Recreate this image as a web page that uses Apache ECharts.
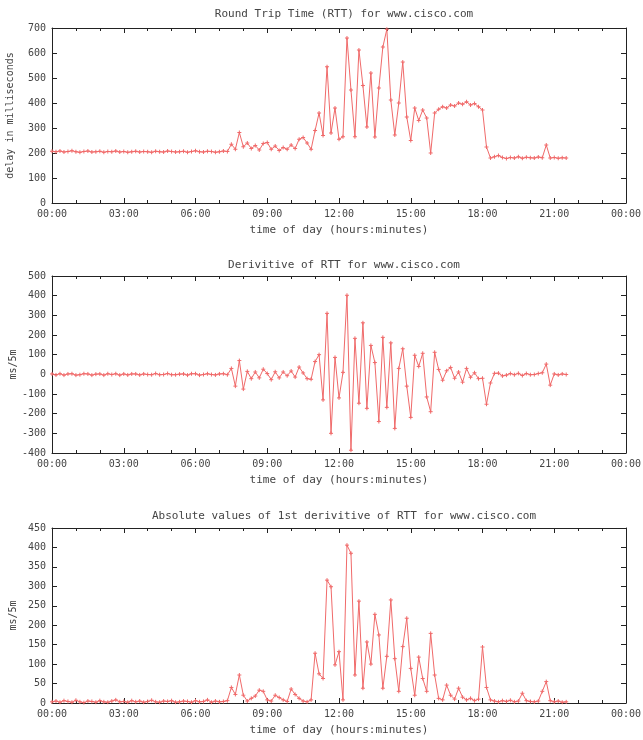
<!DOCTYPE html>
<html>
<head>
<meta charset="utf-8">
<script src="https://cdn.jsdelivr.net/npm/echarts/dist/echarts.min.js"></script>
<style>
  html, body { margin: 0; padding: 0; background: #fff; }
  #main { width: 643px; height: 740px; }
</style>
</head>
<body>
<div id="main"></div>
<script>
// one sample every 10 minutes, starting at 00:00
var sampleMinutes = 10;
var timeLabels = ['00:00', '03:00', '06:00', '09:00', '12:00', '15:00', '18:00', '21:00', '00:00'];

// round trip time, ms
var rtt = [
    207,205,208,204,206,209,205,203,206,208, 204,205,207,203,206,205,208,204,206,203,
    205,207,204,206,205,203,207,205,204,208, 206,204,205,207,203,206,209,205,204,207,
    206,203,205,208,206,
    235,215,282,225,240,218,230,212,238,242, 215,228,210,222,215,232,218,255,262,240, 215,
    290,360,270,545,280,380,255,265,660,452, 265,612,470,304,520,264,460,624,695,412,
    272,400,564,344,250,380,330,372,340,200, 360,
    375,385,380,392,388,400,395,405,392,398,385,
    372,224,
    180,185,190,182,178,182,180,185,179,183, 181,180,184,181,232,180,182,179,181,180
];

// derivative of rtt, ms per 5 min
var deriv = [
    2,-3,3,-4,2,3,-4,-2,3,2, -4,1,2,-4,3,-1,3,-4,2,-3,
    2,2,-3,2,-1,-2,4,-2,-1,4, -2,-2,1,2,-4,3,3,-4,-1,3,
    -1,-3,2,3,-2,
    30,-60,70,-75,15,-22,12,-18,26,4, -27,13,-18,12,-7,17,-14,37,7,-22, -25,
    65,100,-130,310,-300,86,-120,10,402,-386, 183,-147,262,-173,147,60,-240,188,-168,160,
    -275,30,130,-60,-219,97,40,107,-115,-190, 112,
    25,-30,18,35,-20,12,-40,30,-15,8,-22,
    -20,-152,
    -44,5,6,-8,-4,4,-2,5,-6,4, -2,-1,4,8,52,-55,2,-3,2,-1
];

// absolute values of the derivative
var absDeriv = [
    3,5,2,6,4,2,7,3,1,5, 4,2,6,3,2,5,8,3,4,2,
    6,3,5,2,4,7,3,2,5,4, 6,2,3,5,4,2,6,3,4,8,
    2,5,3,4,6,
    40,22,72,20,5,12,18,33,30,8, 5,20,14,8,4,36,22,12,5,3, 8,
    128,75,63,316,299,98,132,8,406,385, 72,262,38,157,100,228,175,38,120,265,
    114,30,145,218,89,20,118,63,30,179, 72,
    12,8,46,20,10,38,15,8,12,6,10,
    144,40,
    8,5,3,6,4,7,3,5,25,6, 4,3,5,30,55,6,3,5,2,3
];

var titles = [
    'Round Trip Time (RTT) for www.cisco.com',
    'Derivitive of RTT for www.cisco.com',
    'Absolute values of 1st derivitive of RTT for www.cisco.com'
];
var yNames = ['delay in milliseconds', 'ms/5m', 'ms/5m'];
var yRanges = [[0, 700, 100], [-400, 500, 100], [0, 450, 50]];
var xName = 'time of day (hours:minutes)';

var font = 'DejaVu Sans Mono';
var textColor = '#444';
var lineColor = '#f06a6a';
var frame = { show: true, onZero: false, lineStyle: { color: '#222', width: 1 } };
var majorTick = { show: true, inside: true, length: 5, lineStyle: { color: '#222' } };
var minorTick = { show: true, splitNumber: 3, length: 3, lineStyle: { color: '#222' } };

function toPairs(values) {
    var out = [];
    for (var i = 0; i < values.length; i++) {
        out.push([i * sampleMinutes, values[i]]);
    }
    return out;
}

var grids = [
    { left: 52, right: 17, top: 28, height: 175, containLabel: false, outerBoundsMode: 'none' },
    { left: 52, right: 17, top: 276, height: 177, containLabel: false, outerBoundsMode: 'none' },
    { left: 52, right: 17, top: 528, height: 175, containLabel: false, outerBoundsMode: 'none' }
];
var titleTops = [4, 255, 506];
var yNameGaps = [37, 34, 34];

var xAxes = [], yAxes = [], titleOpts = [], series = [];
var allData = [rtt, deriv, absDeriv];

for (var g = 0; g < 3; g++) {
    titleOpts.push({
        text: titles[g], left: 339, top: titleTops[g], textAlign: 'center',
        textStyle: { fontFamily: font, fontSize: 11, fontWeight: 'normal', color: textColor }
    });
    // bottom axis with labels
    xAxes.push({
        type: 'value', gridIndex: g, position: 'bottom', min: 0, max: 1440, interval: 180,
        name: xName, nameLocation: 'middle', nameGap: 22, nameMoveOverlap: false,
        nameTextStyle: { fontFamily: font, fontSize: 11, color: textColor },
        axisLine: frame, axisTick: majorTick, minorTick: minorTick,
        axisLabel: {
            fontFamily: font, fontSize: 10, color: textColor, margin: 6,
            formatter: function (v) { return timeLabels[Math.round(v / 180)]; }
        },
        splitLine: { show: false }
    });
    // top mirror axis
    xAxes.push({
        type: 'value', gridIndex: g, position: 'top', min: 0, max: 1440, interval: 180,
        axisLine: frame, axisTick: majorTick, minorTick: minorTick,
        axisLabel: { show: false },
        splitLine: { show: false }
    });
    var r = yRanges[g];
    yAxes.push({
        type: 'value', gridIndex: g, position: 'left', min: r[0], max: r[1], interval: r[2],
        name: yNames[g], nameLocation: 'middle', nameGap: yNameGaps[g], nameRotate: 90,
        nameMoveOverlap: false,
        nameTextStyle: { fontFamily: font, fontSize: 10, color: textColor },
        axisLine: frame, axisTick: majorTick,
        axisLabel: { fontFamily: font, fontSize: 10, color: textColor, margin: 6 },
        splitLine: { show: false }
    });
    yAxes.push({
        type: 'value', gridIndex: g, position: 'right', min: r[0], max: r[1], interval: r[2],
        axisLine: frame, axisTick: majorTick,
        axisLabel: { show: false },
        splitLine: { show: false }
    });
    series.push({
        type: 'line',
        xAxisIndex: g * 2, yAxisIndex: g * 2,
        data: toPairs(allData[g]),
        symbol: 'path://M0,4L8,4M4,0L4,8',
        symbolSize: 4,
        itemStyle: { color: 'transparent', borderColor: lineColor, borderWidth: 1 },
        lineStyle: { color: lineColor, width: 1 },
        emphasis: { disabled: true }
    });
}

var chart = echarts.init(document.getElementById('main'));
chart.setOption({
    animation: false,
    backgroundColor: '#fff',
    title: titleOpts,
    grid: grids,
    xAxis: xAxes,
    yAxis: yAxes,
    series: series
});
</script>
</body>
</html>
